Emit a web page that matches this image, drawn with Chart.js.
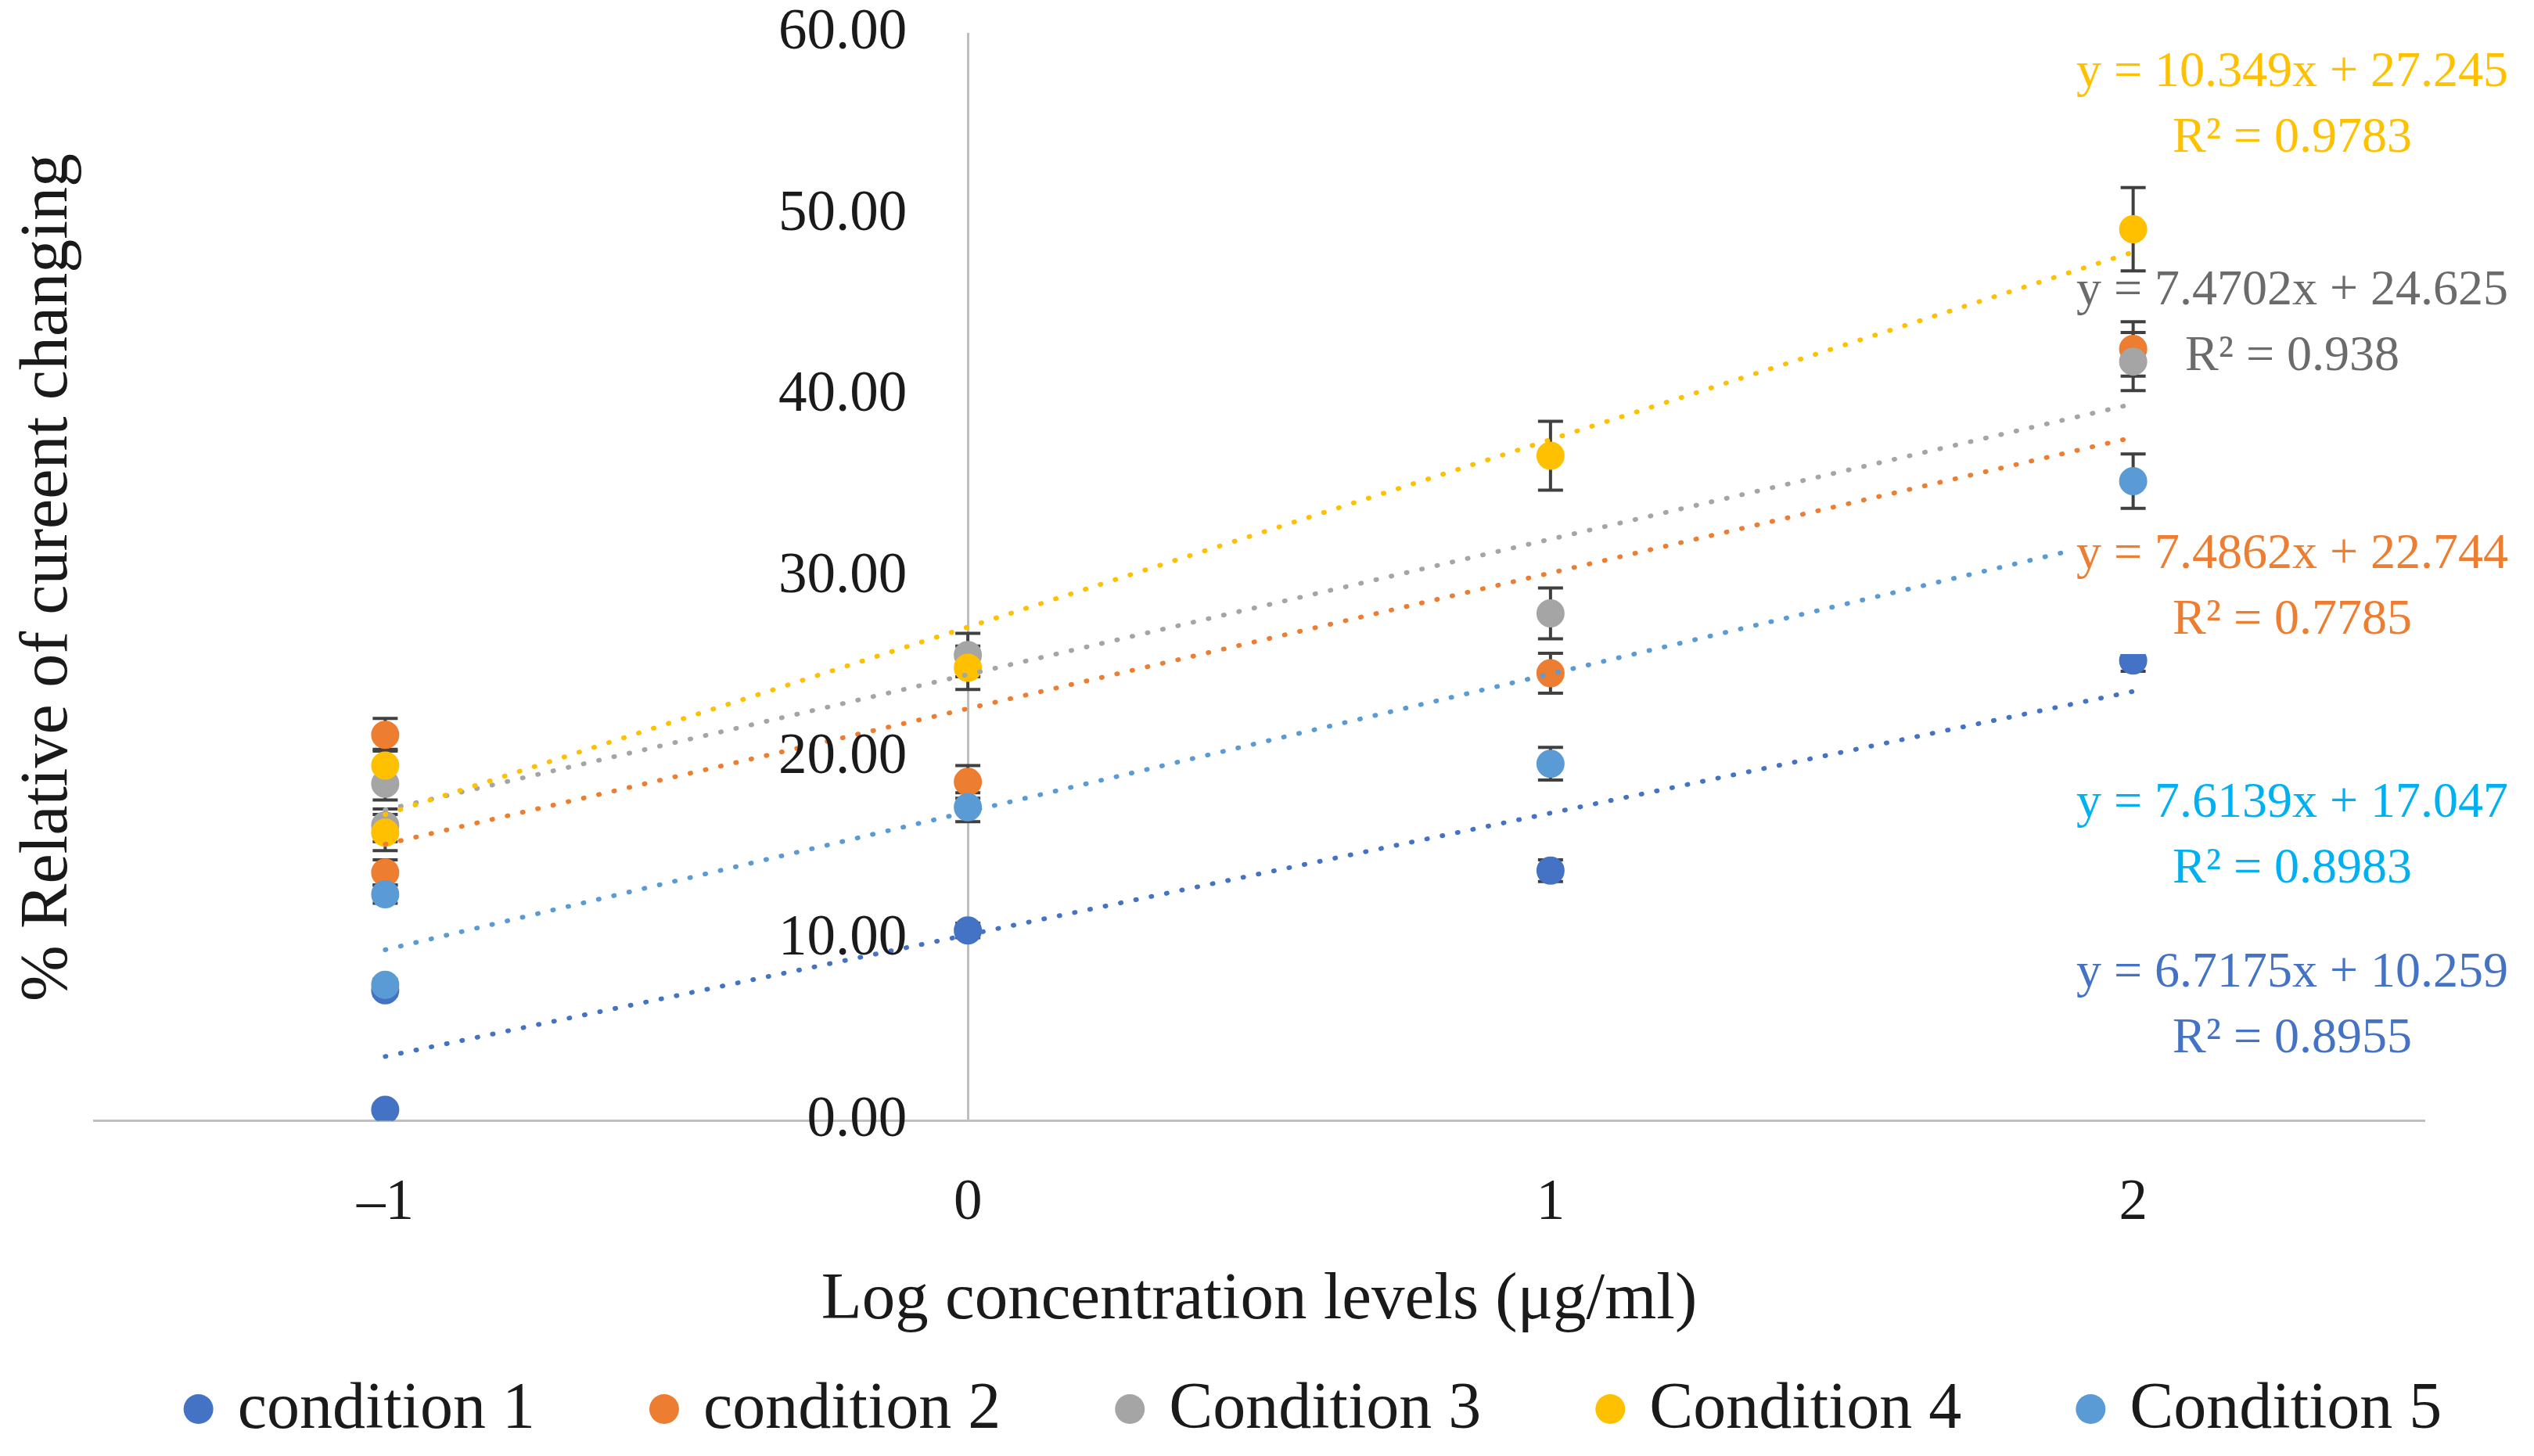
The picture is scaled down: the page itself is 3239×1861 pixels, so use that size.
<!DOCTYPE html>
<html lang="en">
<head>
    <meta charset="UTF-8">
    <title>% Relative of current changing vs log concentration</title>
    <script src="https://cdn.jsdelivr.net/npm/chart.js"></script>
    <style>
        html, body { margin: 0; padding: 0; background: #fff; }
        .chart-container { width: 3239px; height: 1861px; position: relative; }
    </style>
</head>
<body>
    <div class="chart-container">
        <canvas id="myChart"></canvas>
    </div>

    <script>
        // data
        const seriesNames = ['condition 1', 'condition 2', 'Condition 3', 'Condition 4', 'Condition 5'];
        const seriesColors = ['#4472C4', '#ED7D31', '#A5A5A5', '#FFC000', '#5B9BD5'];
        const xValues = [-1, -1, 0, 1, 2];

        const cond1 = [0.6, 7.2, 10.5, 13.8, 25.4];
        const cond2 = [21.3, 13.7, 18.7, 24.7, 42.6];
        const cond3 = [18.6, 16.3, 25.7, 28.0, 41.9];
        const cond4 = [19.6, 15.9, 25.0, 36.7, 49.2];
        const cond5 = [12.5, 7.5, 17.3, 19.7, 35.3];

        const err1 = [0, 0.3, 0.4, 0.6, 0.6];
        const err2 = [0.9, 0.7, 0.9, 1.1, 1.5];
        const err3 = [0.9, 0.9, 1.2, 1.4, 1.6];
        const err4 = [0.9, 1.0, 1.2, 1.9, 2.3];
        const err5 = [0.5, 0.3, 0.8, 0.9, 1.5];

        const trendSlopes = [6.7175, 7.4862, 7.4702, 10.349, 7.6139];
        const trendIntercepts = [10.259, 22.744, 24.625, 27.245, 17.047];
        const trendR2 = ['0.8955', '0.7785', '0.938', '0.9783', '0.8983'];
        const trendFrom = -1;
        const trendTo = 2;

        const xTickValues = [-1, 0, 1, 2];
        const xTickLabels = ['–1', '0', '1', '2'];
        const yTickValues = [0, 10, 20, 30, 40, 50, 60];
        const yTickLabels = ['0.00', '10.00', '20.00', '30.00', '40.00', '50.00', '60.00'];

        const allValues = [cond1, cond2, cond3, cond4, cond5];
        const allErrors = [err1, err2, err3, err4, err5];

        // look
        const FONT = '"Liberation Serif", "Times New Roman", serif';
        const TEXT = '#1a1a1a';
        const labelColors = ['#4472C4', '#ED7D31', '#6B6B6B', '#FFC000', '#00B0F0'];
        const labelSpots = [
            {x: 2930, y: 1244, fill: false},
            {x: 2930, y: 709, fill: true},
            {x: 2930, y: 372, fill: false},
            {x: 2930, y: 93, fill: false},
            {x: 2930, y: 1027, fill: false}
        ];

        const datasets = [];
        allValues.forEach((vals, i) => {
            datasets.push({
                label: seriesNames[i],
                data: vals.map((v, j) => ({x: xValues[j], y: v})),
                backgroundColor: seriesColors[i],
                borderColor: seriesColors[i],
                borderWidth: 2,
                pointRadius: 17,
                showLine: false,
                order: 20 - i
            });
        });
        allValues.forEach((vals, i) => {
            datasets.push({
                label: 'trend ' + seriesNames[i],
                data: [
                    {x: trendFrom, y: trendSlopes[i] * trendFrom + trendIntercepts[i]},
                    {x: trendTo, y: trendSlopes[i] * trendTo + trendIntercepts[i]}
                ],
                borderColor: seriesColors[i],
                borderWidth: 6,
                borderDash: [1, 19],
                borderCapStyle: 'round',
                pointRadius: 0,
                showLine: true,
                order: 5 - i
            });
        });

        const errorBars = {
            id: 'errorBars',
            beforeDatasetsDraw(chart) {
                const ctx = chart.ctx;
                const yScale = chart.scales.y;
                ctx.save();
                ctx.strokeStyle = '#404040';
                ctx.lineWidth = 4;
                allErrors.forEach((errs, i) => {
                    const meta = chart.getDatasetMeta(i);
                    errs.forEach((e, j) => {
                        if (!e) return;
                        const px = meta.data[j].x;
                        const top = yScale.getPixelForValue(allValues[i][j] + e);
                        const bot = yScale.getPixelForValue(allValues[i][j] - e);
                        ctx.beginPath();
                        ctx.moveTo(px, top); ctx.lineTo(px, bot);
                        ctx.moveTo(px - 16, top); ctx.lineTo(px + 16, top);
                        ctx.moveTo(px - 16, bot); ctx.lineTo(px + 16, bot);
                        ctx.stroke();
                    });
                });
                ctx.restore();
            }
        };

        const extras = {
            id: 'extras',
            afterDraw(chart) {
                const ctx = chart.ctx;
                const yScale = chart.scales.y;
                const axisX = chart.scales.x.getPixelForValue(0);
                ctx.save();

                // y tick labels, left of the axis line at x = 0
                ctx.fillStyle = TEXT;
                ctx.font = '73px ' + FONT;
                ctx.textAlign = 'right';
                ctx.textBaseline = 'middle';
                yTickValues.forEach((v, i) => {
                    ctx.fillText(yTickLabels[i], axisX - 78, yScale.getPixelForValue(v));
                });

                // y axis title
                ctx.font = '86px ' + FONT;
                ctx.textAlign = 'center';
                ctx.translate(62, 738);
                ctx.rotate(-Math.PI / 2);
                ctx.fillText('% Relative of cureent changing', 0, 0);
                ctx.setTransform(1, 0, 0, 1, 0, 0);

                // trendline equations
                ctx.font = '64px ' + FONT;
                labelSpots.forEach((s, i) => {
                    const l1 = 'y = ' + trendSlopes[i] + 'x + ' + trendIntercepts[i];
                    const l2 = 'R² = ' + trendR2[i];
                    if (s.fill) {
                        const w = ctx.measureText(l1).width + 16;
                        ctx.fillStyle = '#fff';
                        ctx.fillRect(s.x - w / 2, s.y - 42, w, 84 + 42 + 43);
                    }
                    ctx.fillStyle = labelColors[i];
                    ctx.fillText(l1, s.x, s.y);
                    ctx.fillText(l2, s.x, s.y + 84);
                });

                // legend
                ctx.font = '84px ' + FONT;
                ctx.textAlign = 'left';
                const r = 19, textGap = 50, itemGap = 146;
                const widths = seriesNames.map(n => ctx.measureText(n).width);
                let total = r;
                widths.forEach((w, i) => { total += textGap + w + (i < widths.length - 1 ? itemGap + r : 0); });
                let cx = 1678 - total / 2 + r;
                const ly = 1801;
                seriesNames.forEach((n, i) => {
                    ctx.beginPath();
                    ctx.arc(cx, ly, r, 0, Math.PI * 2);
                    ctx.fillStyle = seriesColors[i];
                    ctx.fill();
                    ctx.fillStyle = TEXT;
                    ctx.fillText(n, cx + textGap, ly + 2);
                    cx += textGap + widths[i] + itemGap + r;
                });
                ctx.restore();
            }
        };

        const ctx = document.getElementById('myChart').getContext('2d');
        window.myChart = new Chart(ctx, {
            type: 'scatter',
            data: { datasets: datasets },
            options: {
                responsive: true,
                maintainAspectRatio: false,
                devicePixelRatio: 1,
                animation: false,
                events: [],
                layout: { padding: { left: 120, right: 140, top: 43, bottom: 147 } },
                plugins: {
                    legend: { display: false },
                    tooltip: { enabled: false }
                },
                scales: {
                    x: {
                        type: 'linear',
                        min: -1.5,
                        max: 2.5,
                        position: 'bottom',
                        afterBuildTicks: s => { s.ticks = xTickValues.map(v => ({value: v})); },
                        ticks: {
                            callback: v => xTickLabels[xTickValues.indexOf(v)],
                            font: { family: FONT, size: 73 },
                            color: TEXT,
                            padding: 63,
                            maxRotation: 0,
                            autoSkip: false
                        },
                        grid: { display: false, drawTicks: false },
                        border: { display: true, color: '#BFBFBF', width: 3 },
                        title: {
                            display: true,
                            text: 'Log concentration levels (μg/ml)',
                            font: { family: FONT, size: 85 },
                            color: TEXT,
                            padding: { top: -34, bottom: 0 }
                        }
                    },
                    y: {
                        type: 'linear',
                        min: 0,
                        max: 60,
                        position: { x: 0 },
                        afterBuildTicks: s => { s.ticks = yTickValues.map(v => ({value: v})); },
                        ticks: { display: false, padding: 0 },
                        grid: { display: false, drawTicks: false },
                        border: { display: true, color: '#BFBFBF', width: 3 }
                    }
                }
            },
            plugins: [errorBars, extras]
        });
    </script>
</body>
</html>
